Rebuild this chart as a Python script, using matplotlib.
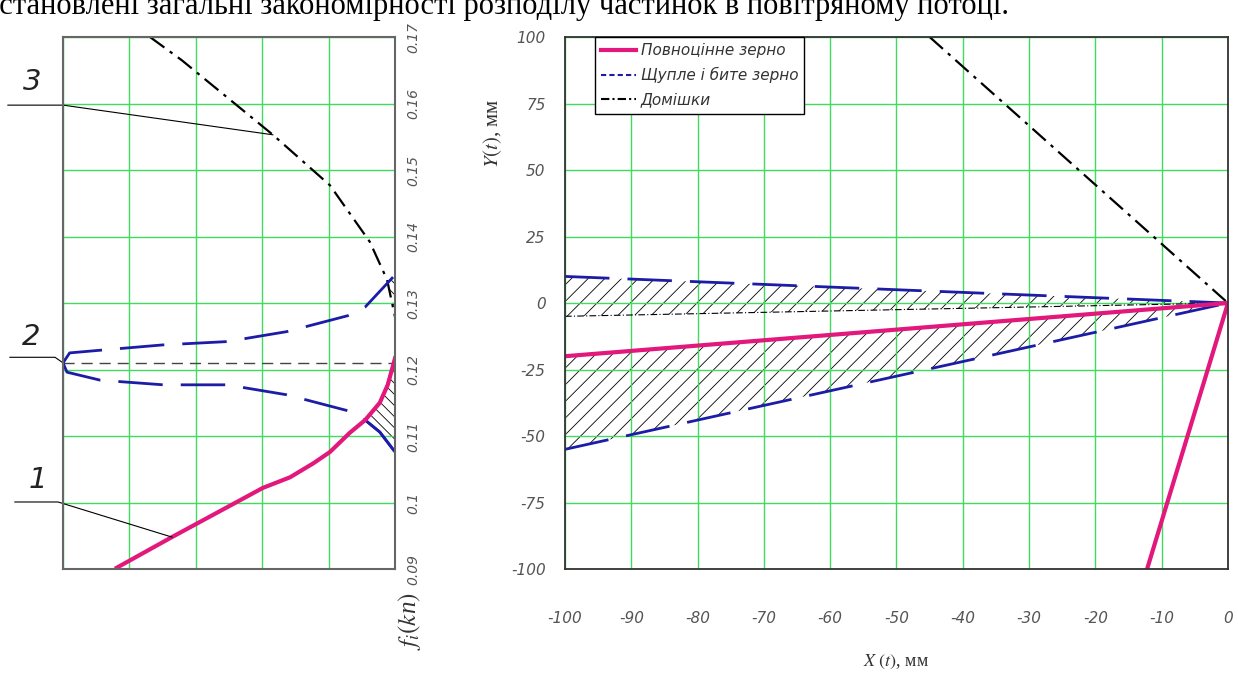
import numpy as np
import matplotlib.pyplot as plt
from matplotlib.lines import Line2D

plt.rcParams['hatch.linewidth'] = 0.6
plt.rcParams['mathtext.fontset'] = 'stix'

# ---- left panel: f_i(k_п) ----
grain_x = [0.81, 1.64, 3.01, 3.42, 3.77, 4.02, 4.32, 4.55, 4.77, 4.89, 5.0]
grain_f = [0.0902, 0.0948, 0.1022, 0.1038, 0.1059, 0.1076, 0.1105, 0.1124, 0.1150, 0.1177, 0.1217]

thin_up_x = [0.0, 0.1, 0.56, 1.5, 2.47, 3.37, 4.29, 4.55, 4.97]
thin_up_f = [0.1210, 0.1225, 0.1229, 0.1237, 0.1242, 0.1257, 0.1281, 0.1294, 0.1339]
thin_lo_x = [0.0, 0.06, 0.56, 1.51, 2.47, 3.37, 4.29, 4.55, 4.77, 5.0]
thin_lo_f = [0.1210, 0.1196, 0.1184, 0.1177, 0.1177, 0.1162, 0.1138, 0.1124, 0.1106, 0.1076]

imp_x = [1.31, 1.79, 3.16, 4.02, 4.62, 4.88, 5.0]
imp_f = [0.170, 0.1665, 0.1553, 0.1477, 0.1392, 0.1335, 0.1279]

mean_f = 0.121
f_ticks = [0.09, 0.10, 0.11, 0.12, 0.13, 0.14, 0.15, 0.16, 0.17]
f_labels = ['0.09', '0.1', '0.11', '0.12', '0.13', '0.14', '0.15', '0.16', '0.17']

# ---- right panel: trajectories ----
x_ticks = [-100, -90, -80, -70, -60, -50, -40, -30, -20, -10, 0]
x_labels = ['-100', '-90', '-80', '-70', '-60', '-50', '-40', '-30', '-20', '-10', '0']
y_ticks = [-100, -75, -50, -25, 0, 25, 50, 75, 100]
y_labels = ['-100', '-75', '-50', '-25', '0', '25', '50', '75', '100']

full_x = [-100, 0, -12.2]
full_y = [-20, 0, -100]
shriv_up_x = [-100, 0]
shriv_up_y = [10, 0]
shriv_lo_x = [-100, 0]
shriv_lo_y = [-55, 0]
shriv_edge_y = [-5, 0]
impur_x = [-45, 0]
impur_y = [100, 0]

PINK = '#e3187c'
BLUE = '#1c1ca6'
GREEN = '#3fdc5f'
GREY = '#555555'
tick_font = dict(family=['Liberation Sans Narrow', 'DejaVu Sans'], style='italic', color=GREY)

fig = plt.figure(figsize=(12.38, 6.77), dpi=100)

# top line of body text (cut by the crop)
fig.text(-0.012, 1 - 14 / 677, 'встановлені загальні закономірності розподілу частинок в повітряному потоці.',
         family='Liberation Serif', fontsize=22, va='baseline', ha='left')

ax1 = fig.add_axes([0.0509, 0.1595, 0.2682, 0.7858])
ax1.set_xlim(0, 5)
ax1.set_ylim(0.09, 0.17)
ax1.set_xticks([0, 1, 2, 3, 4, 5])
ax1.set_yticks(f_ticks)
ax1.set_xticklabels([])
ax1.yaxis.tick_right()
ax1.set_yticklabels(f_labels, rotation=90, va='center', fontsize=10, **tick_font)
ax1.tick_params(length=0, pad=8)
ax1.grid(True, color=GREEN, lw=1)
for s in ax1.spines.values():
    s.set_color('#666666')
    s.set_linewidth(1.5)

# hatched zones
hx = np.linspace(4.55, 5.0, 20)
ax1.fill_between(hx, np.interp(hx, thin_lo_x, thin_lo_f), np.interp(hx, grain_x, grain_f),
                 facecolor='none', edgecolor='k', lw=0, hatch='\\\\\\')
hx2 = np.linspace(4.87, 5.0, 10)
ax1.fill_between(hx2, np.interp(hx2, imp_x, imp_f), np.interp(hx2, thin_up_x + [5.0], thin_up_f + [0.1345]),
                 facecolor='none', edgecolor='k', lw=0, hatch='\\\\\\')

ax1.axhline(mean_f, color='#444444', lw=1, dashes=(8, 5))
ax1.plot(imp_x, imp_f, color='k', lw=1.6, dashes=(8, 3, 1.5, 3))
ax1.plot(thin_up_x, thin_up_f, color=BLUE, lw=2, dashes=(16, 6.5))
ax1.plot(thin_lo_x, thin_lo_f, color=BLUE, lw=2, dashes=(16, 6.5))
ax1.plot(thin_lo_x[7:], thin_lo_f[7:], color=BLUE, lw=2)
ax1.plot(grain_x, grain_f, color=PINK, lw=3)


def to_axes(x, f):
    return x / 5.0, (f - 0.09) / 0.08


# numbered leaders
leaders = [('3', imp_x[2], imp_f[2], -0.166, 0.0, 0.872, -0.093, 0.915),
           ('2', thin_up_x[0], thin_up_f[0], -0.160, -0.024, 0.398, -0.096, 0.436),
           ('1', grain_x[1], grain_f[1], -0.145, -0.015, 0.126, -0.075, 0.167)]
for num, xd, fd, xa, xb, yu, xt, yt in leaders:
    px, py = to_axes(xd, fd)
    ax1.plot([xa, xb, px], [yu, yu, py], color='k', lw=0.8, transform=ax1.transAxes, clip_on=False)
    ax1.text(xt, yt, num, transform=ax1.transAxes, fontsize=21, ha='center', va='center',
             family=['Liberation Sans Narrow', 'DejaVu Sans'], style='italic', color='#222222')

ax1.text(1.045, -0.098, '$f_i(k$п$)$', transform=ax1.transAxes, rotation=90, ha='center', va='center',
         fontsize=18, family='Liberation Serif', style='italic', color='#333333')

# ---- right panel ----
ax2 = fig.add_axes([0.4564, 0.1595, 0.5355, 0.7858])
ax2.set_xlim(-100, 0)
ax2.set_ylim(-100, 100)
ax2.set_xticks(x_ticks)
ax2.set_yticks(y_ticks)
ax2.set_xticklabels(x_labels, fontsize=11, **tick_font)
ax2.set_yticklabels(y_labels, fontsize=11, **tick_font)
ax2.tick_params(axis='x', length=0, pad=30)
ax2.tick_params(axis='y', length=0, pad=14)
ax2.grid(True, color=GREEN, lw=1)
for s in ax2.spines.values():
    s.set_color('#333333')
    s.set_linewidth(1.3)

xx = np.linspace(-100, 0, 50)
ax2.fill_between(xx, np.interp(xx, shriv_up_x, shriv_edge_y), np.interp(xx, shriv_up_x, shriv_up_y),
                 facecolor='none', edgecolor='k', lw=0, hatch='//')
ax2.fill_between(xx, np.interp(xx, shriv_lo_x, shriv_lo_y), np.interp(xx, full_x[:2], full_y[:2]),
                 facecolor='none', edgecolor='k', lw=0, hatch='//')

ax2.plot(shriv_up_x, shriv_edge_y, color='k', lw=0.8, dashes=(6, 2, 1, 2))
ax2.plot(impur_x, impur_y, color='k', lw=1.6, dashes=(8, 3, 1.5, 3))
ax2.plot(shriv_up_x, shriv_up_y, color=BLUE, lw=2, dashes=(16, 6.5))
ax2.plot(shriv_lo_x, shriv_lo_y, color=BLUE, lw=2, dashes=(16, 6.5))
ax2.plot(full_x, full_y, color=PINK, lw=3)

handles = [Line2D([], [], color=PINK, lw=3),
           Line2D([], [], color=BLUE, lw=1.5, dashes=(2.5, 1.5)),
           Line2D([], [], color='k', lw=1.5, dashes=(4, 1.5, 1, 1.5))]
leg = ax2.legend(handles, ['Повноцінне зерно', 'Щупле і бите зерно', 'Домішки'],
                 loc='upper left', bbox_to_anchor=(0.045, 1.0), borderaxespad=0,
                 fancybox=False, framealpha=1, edgecolor='k', handlelength=2.3,
                 handletextpad=0.3, labelspacing=0.6,
                 prop=dict(family=['Liberation Sans Narrow', 'DejaVu Sans'], style='italic', size=11))
leg.get_frame().set_linewidth(1.0)
for t in leg.get_texts():
    t.set_color('#333333')

ax2.text(-0.109, 0.82, '$Y(t)$, мм', transform=ax2.transAxes, rotation=90, ha='center', va='center',
         fontsize=15, family='Liberation Serif', color='#333333')
ax2.text(0.5, -0.175, '$X\\ (t)$, мм', transform=ax2.transAxes, ha='center', va='center',
         fontsize=13, family='Liberation Serif', color='#333333')

fig.savefig('out.png', dpi=100)
